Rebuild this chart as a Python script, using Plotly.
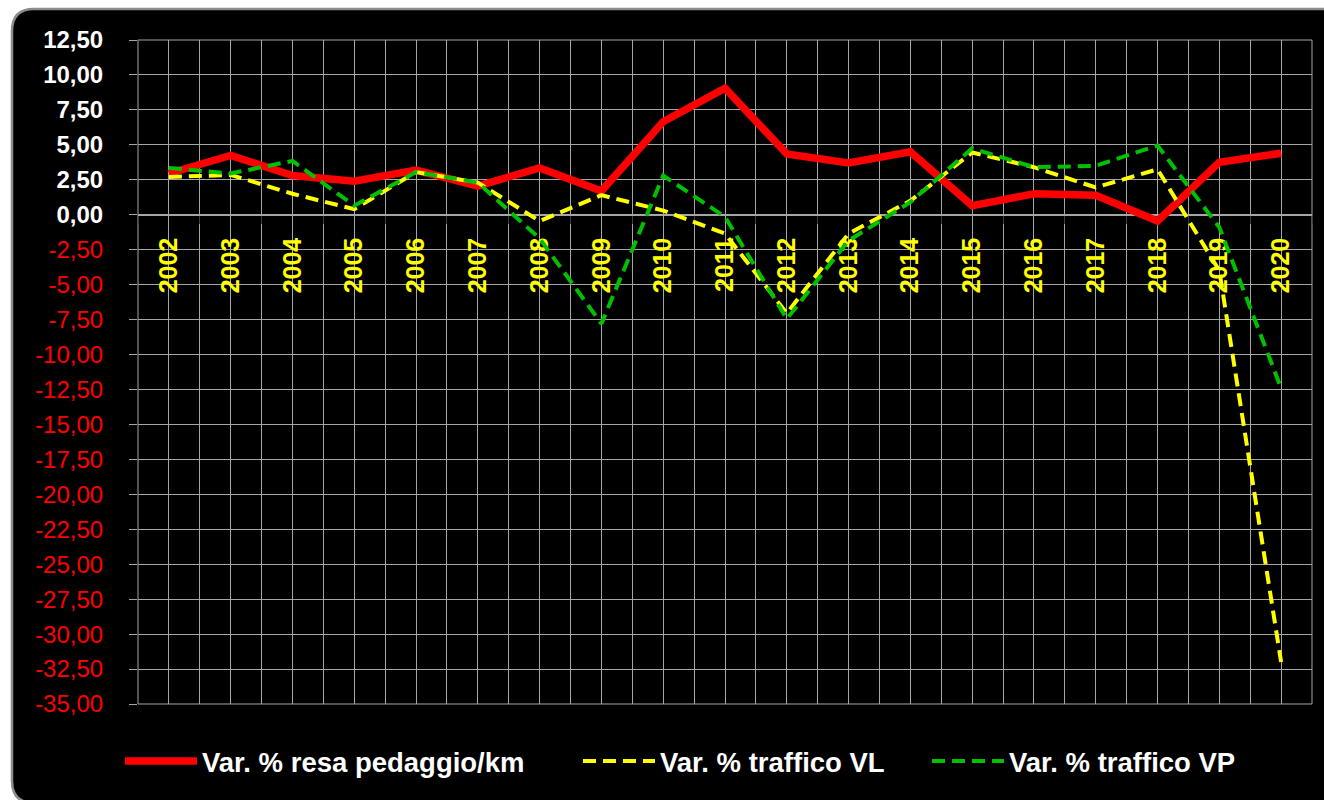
import plotly.graph_objects as go

YEARS = [2002, 2003, 2004, 2005, 2006, 2007, 2008, 2009, 2010, 2011,
         2012, 2013, 2014, 2015, 2016, 2017, 2018, 2019, 2020]
RESA_PEDAGGIO = [2.95, 4.25, 2.80, 2.40, 3.20, 2.05, 3.35, 1.70, 6.65, 9.05,
                 4.35, 3.70, 4.50, 0.65, 1.50, 1.40, -0.45, 3.75, 4.40]
TRAFFICO_VL = [2.70, 2.85, 1.50, 0.40, 3.05, 2.30, -0.45, 1.40, 0.30, -1.35,
               -7.05, -1.35, 1.00, 4.45, 3.40, 1.95, 3.25, -4.00, -32.00]
TRAFFICO_VP = [3.35, 2.95, 3.85, 0.65, 3.05, 2.30, -1.70, -7.80, 2.80, -0.15,
               -7.45, -1.85, 0.90, 4.75, 3.40, 3.50, 4.95, -0.90, -12.40]
Y_TICKS = [12.5, 10, 7.5, 5, 2.5, 0, -2.5, -5, -7.5, -10, -12.5, -15, -17.5,
           -20, -22.5, -25, -27.5, -30, -32.5, -35]
SERIES_NAMES = ["Var. % resa pedaggio/km", "Var. % traffico VL", "Var. % traffico VP"]

Y_MIN, Y_MAX = -35, 12.5
FONT = "Liberation Sans, Arial, sans-serif"
GRID = "#A6A6A6"

W, H = 1324, 800
ML, MR, MT, MB = 138, 12, 40, 96
PW, PH = W - ML - MR, H - MT - MB


def px(x):
    return (x - ML) / PW


def py(y):
    return (H - MB - y) / PH


def ylabel(v):
    s = f"{v:.2f}".replace(".", ",")
    if v < 0:
        return f'<span style="color:#FF0000">{s}</span>'
    return f"<b>{s}</b>"


fig = go.Figure()
fig.add_trace(go.Scatter(x=YEARS, y=RESA_PEDAGGIO, name=SERIES_NAMES[0], mode="lines",
                         legend="legend",
                         line=dict(color="#FF0000", width=7.5)))
fig.add_trace(go.Scatter(x=YEARS, y=TRAFFICO_VL, name=SERIES_NAMES[1], mode="lines",
                         legend="legend2",
                         line=dict(color="#FFFF00", width=4, dash="13px,7px")))
fig.add_trace(go.Scatter(x=YEARS, y=TRAFFICO_VP, name=SERIES_NAMES[2], mode="lines",
                         legend="legend3",
                         line=dict(color="#00C000", width=4, dash="13px,7px")))

# rounded black frame
L, T, R, B, r = 12, 9, 1345, 803, 22
path = (f"M {px(L + r)},{py(T)} L {px(R)},{py(T)} L {px(R)},{py(B)} "
        f"L {px(L + r)},{py(B)} Q {px(L)},{py(B)} {px(L)},{py(B - r)} "
        f"L {px(L)},{py(T + r)} Q {px(L)},{py(T)} {px(L + r)},{py(T)} Z")
fig.add_shape(type="path", path=path, xref="paper", yref="paper", layer="below",
              fillcolor="#000000", line=dict(color="#8C8C8C", width=2.5))
fig.add_shape(type="rect", x0=0, x1=1, y0=0, y1=1, xref="paper", yref="paper",
              layer="below", line=dict(color=GRID, width=1))

legend_font = dict(family=FONT, size=27.5, color="#FFFFFF", weight="bold")
legend_common = dict(orientation="h", xanchor="left", y=py(761), yanchor="middle",
                     bgcolor="rgba(0,0,0,0)", itemwidth=72, font=legend_font)

fig.update_layout(
    width=W, height=H,
    margin=dict(l=ML, r=MR, t=MT, b=MB),
    paper_bgcolor="#FFFFFF",
    plot_bgcolor="rgba(0,0,0,0)",
    font=dict(family=FONT, color="#FFFFFF"),
    showlegend=True,
    hovermode=False,
    legend=dict(x=px(120), **legend_common),
    legend2=dict(x=px(578), **legend_common),
    legend3=dict(x=px(927), **legend_common),
    xaxis=dict(
        range=[YEARS[0] - 0.5, YEARS[-1] + 0.5],
        tickmode="array", tickvals=YEARS, ticktext=[str(y) for y in YEARS],
        tickangle=-90, ticks="", ticklabelstandoff=12,
        tickfont=dict(family=FONT, size=25, color="#FFFF00", weight="bold"),
        showgrid=True, gridcolor=GRID, gridwidth=1,
        minor=dict(tickvals=[y - 0.5 for y in YEARS] + [YEARS[-1] + 0.5],
                   showgrid=True, gridcolor=GRID, gridwidth=1,
                   ticks="outside", ticklen=8, tickcolor="#404040"),
        anchor="free", position=(0 - Y_MIN) / (Y_MAX - Y_MIN),
        showline=True, linecolor=GRID, linewidth=1,
        zeroline=False, layer="below traces",
    ),
    yaxis=dict(
        range=[Y_MIN, Y_MAX],
        tickmode="array", tickvals=Y_TICKS, ticktext=[ylabel(v) for v in Y_TICKS],
        ticks="outside", ticklen=8, tickcolor=GRID, ticklabelstandoff=21,
        tickfont=dict(family=FONT, size=24, color="#FFFFFF"),
        showgrid=True, gridcolor=GRID, gridwidth=1,
        zeroline=False, showline=False,
    ),
)

fig.write_html("out.html", config={"displayModeBar": False},
               post_script="document.body.style.margin='0';document.body.style.overflow='hidden';")
